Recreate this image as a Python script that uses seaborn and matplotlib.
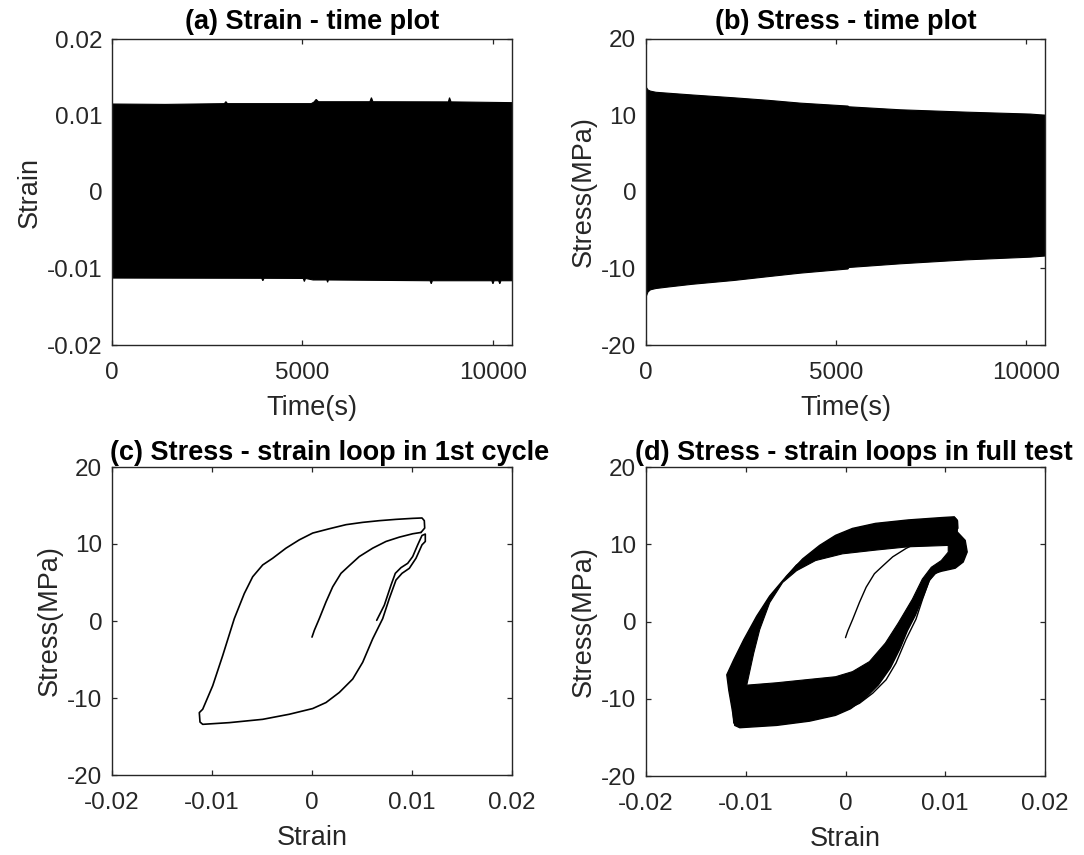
import numpy as np
import pandas as pd
import matplotlib
matplotlib.use("Agg")
import matplotlib.pyplot as plt
import seaborn as sns

# ---------------- data ----------------
# (a) strain - time: envelope of the dense oscillation
time_a_upper = [0, 1400, 2950, 2990, 3030, 5230, 5300, 5360, 5420, 6770, 6810, 6850,
                8830, 8860, 8900, 10500]
strain_a_upper = [0.01150, 0.01145, 0.01155, 0.01181, 0.01155, 0.01155, 0.01175, 0.01210,
                  0.01180, 0.01180, 0.01233, 0.01180, 0.01178, 0.01233, 0.01178, 0.01168]
time_a_lower = [0, 3930, 3960, 3990, 5020, 5050, 5080, 5280, 5640, 5660, 5680, 8350, 8380,
                8410, 9970, 10000, 10030, 10150, 10180, 10210, 10500]
strain_a_lower = [-0.01125, -0.01128, -0.01160, -0.01128, -0.01130, -0.01170, -0.01130,
                  -0.01150, -0.01150, -0.01180, -0.01150, -0.01160, -0.01200, -0.01160,
                  -0.01160, -0.01200, -0.01160, -0.01160, -0.01200, -0.01160, -0.01160]

# (b) stress - time: envelope
time_b = [0, 40, 105, 250, 544, 1200, 2298, 3200, 4053, 5300, 5330, 6684, 8439, 10105, 10500]
stress_b_upper = [13.7, 13.4, 13.25, 13.1, 12.99, 12.75, 12.38, 12.05, 11.68, 11.3, 11.2,
                  10.81, 10.5, 10.25, 10.1]
stress_b_lower = [-13.5, -13.0, -12.72, -12.55, -12.37, -12.0, -11.5, -11.0, -10.54, -10.0,
                  -9.8, -9.32, -8.8, -8.45, -8.3]

# (c) first cycle: initial loading and loop
load_strain = [0.0, 0.00023, 0.00073, 0.0014, 0.00207, 0.0029, 0.00373, 0.00473, 0.00607,
               0.0074, 0.00873, 0.01007, 0.0109]
load_stress = [-2.09, -1.22, 0.31, 2.48, 4.44, 6.19, 7.19, 8.37, 9.46, 10.33, 10.89, 11.33, 11.50]

loop_strain = [0.0109, 0.01127, 0.01123, 0.0110, 0.01007, 0.0084, 0.00673, 0.00507, 0.0034,
               0.00173, 0.00007, -0.00127, -0.0026, -0.00393, -0.00493, -0.00593, -0.00677,
               -0.00777, -0.00893, -0.00993, -0.01093, -0.01127, -0.0112, -0.01093,
               -0.00827, -0.00493, -0.00227, 0.00007, 0.0014, 0.00273, 0.00407, 0.00507,
               0.00607, 0.00707, 0.00773, 0.0084, 0.0090, 0.00973, 0.0104, 0.0110, 0.01133,
               0.01133, 0.0110, 0.01057, 0.01007, 0.00957, 0.0089, 0.00833, 0.0079, 0.00723,
               0.00647]
loop_stress = [11.50, 12.07, 13.03, 13.38, 13.33, 13.20, 13.03, 12.81, 12.51, 11.98, 11.42,
               10.54, 9.46, 8.15, 7.28, 5.75, 3.57, 0.31, -4.49, -8.41, -11.46, -11.90,
               -13.12, -13.42, -13.20, -12.77, -12.11, -11.37, -10.59, -9.28, -7.54, -5.36,
               -2.31, 0.31, 2.92, 5.32, 6.19, 6.84, 8.15, 9.89, 10.33, 11.29, 11.11, 9.89,
               8.37, 7.49, 6.93, 6.19, 4.66, 2.05, 0.09]

# (d) full test: outer and inner boundary of the band of loops
band_outer_strain = [0.0109, 0.0096, 0.0063, 0.0030, 0.0007, -0.0010, -0.0026, -0.0043,
                     -0.0059, -0.0076, -0.0089, -0.0102, -0.0112, -0.0119, -0.0117, -0.0114,
                     -0.0111, -0.0106, -0.0069, -0.0036, -0.0010, 0.0005, 0.0020, 0.0033,
                     0.0045, 0.0055, 0.0062, 0.0070, 0.0078, 0.0084, 0.0089, 0.0096, 0.0110,
                     0.0118, 0.0122, 0.0120, 0.0112, 0.0112]
band_outer_stress = [13.55, 13.45, 13.15, 12.70, 12.05, 11.15, 9.85, 8.10, 5.90, 3.30, 0.70,
                     -2.35, -4.95, -6.90, -8.90, -11.10, -13.45, -13.75, -13.45, -12.90,
                     -12.15, -11.30, -9.90, -8.20, -6.00, -3.40, -1.20, 0.80, 3.30, 5.30,
                     6.20, 6.50, 6.90, 7.70, 9.00, 10.50, 11.60, 13.10]
band_inner_strain = [0.0103, 0.0063, 0.0030, -0.0003, -0.0030, -0.0049, -0.0063, -0.0076,
                     -0.0086, -0.0092, -0.0099, -0.0069, -0.0036, -0.0010, 0.0007, 0.0024,
                     0.0040, 0.0053, 0.0067, 0.0077, 0.0086, 0.0096, 0.0103]
band_inner_stress = [9.85, 9.67, 9.24, 8.76, 7.89, 6.58, 5.05, 2.44, -1.05, -4.10, -8.24,
                     -7.93, -7.49, -7.15, -6.49, -5.19, -2.79, -0.17, 2.88, 5.49, 7.02, 7.89,
                     8.98]

# axis ticks / labels
time_ticks = [0, 5000, 10000]
time_ticklabels = ["0", "5000", "10000"]
strain_ticks = [-0.02, -0.01, 0, 0.01, 0.02]
strain_ticklabels = ["-0.02", "-0.01", "0", "0.01", "0.02"]
stress_ticks = [-20, -10, 0, 10, 20]
stress_ticklabels = ["-20", "-10", "0", "10", "20"]
titles = ["(a) Strain - time plot", "(b) Stress - time plot",
          "(c) Stress - strain loop in 1st cycle", "(d) Stress - strain loops in full test"]

# ---------------- style ----------------
sns.set_theme(style="white")
plt.rcParams['font.family'] = ['Liberation Sans', 'DejaVu Sans']
plt.rcParams['axes.unicode_minus'] = False
GRAY = '#262626'

fig = plt.figure(figsize=(10.84, 8.55), dpi=100)
W, H = 1084, 855


def rect(l, r, t, b):
    return [l / W, (H - b) / H, (r - l) / W, (b - t) / H]


ax_a = fig.add_axes(rect(112, 512, 39, 345))
ax_b = fig.add_axes(rect(646, 1045, 39, 345))
ax_c = fig.add_axes(rect(112, 512, 467, 775))
ax_d = fig.add_axes(rect(646, 1045, 467, 776))


def style(ax, xt, xtl, yt, ytl, xlim, ylim, xlabel, ylabel, title, tpad, tx):
    ax.set_xlim(*xlim)
    ax.set_ylim(*ylim)
    ax.set_xticks(xt)
    ax.set_xticklabels(xtl)
    ax.set_yticks(yt)
    ax.set_yticklabels(ytl)
    for s in ax.spines.values():
        s.set_visible(True)
        s.set_color(GRAY)
        s.set_linewidth(1.0)
    ax.tick_params(axis='both', which='both', direction='in', top=True, right=True,
                   bottom=True, left=True, length=3.5, width=0.9, colors=GRAY,
                   labelsize=17.5, labelcolor=GRAY)
    ax.tick_params(axis='x', pad=12)
    ax.tick_params(axis='y', pad=7)
    ax.set_xlabel(xlabel, fontsize=19.5, color=GRAY, labelpad=8)
    ax.set_ylabel(ylabel, fontsize=19.5, color=GRAY, labelpad=3)
    t = ax.set_title(title, fontsize=19.5, fontweight='bold', color='black', pad=tpad)
    t.set_x(tx)
    ax.set_facecolor('white')


# (a)
ax_a.fill(np.concatenate([time_a_upper, time_a_lower[::-1]]),
          np.concatenate([strain_a_upper, strain_a_lower[::-1]]),
          color='black', lw=0.8, edgecolor='black')
style(ax_a, time_ticks, time_ticklabels, strain_ticks, strain_ticklabels, (0, 10500),
      (-0.02, 0.02), "Time(s)", "Strain", titles[0], 7, 0.5)

# (b)
ax_b.fill_between(time_b, stress_b_lower, stress_b_upper, color='black', lw=0.8,
                  edgecolor='black')
style(ax_b, time_ticks, time_ticklabels, stress_ticks, stress_ticklabels, (0, 10500),
      (-20, 20), "Time(s)", "Stress(MPa)", titles[1], 7, 0.5)

# (c)
df_load = pd.DataFrame({"strain": load_strain, "stress": load_stress})
df_loop = pd.DataFrame({"strain": loop_strain, "stress": loop_stress})
for d in (df_load, df_loop):
    sns.lineplot(data=d, x="strain", y="stress", sort=False, estimator=None,
                 color='black', lw=1.2, ax=ax_c)
style(ax_c, strain_ticks, strain_ticklabels, stress_ticks, stress_ticklabels,
      (-0.02, 0.02), (-20, 20), "Strain", "Stress(MPa)", titles[2], 5, 0.545)

# (d)
ax_d.fill(band_outer_strain, band_outer_stress, color='black', lw=1.0,
          edgecolor='black', zorder=1)
sns.lineplot(data=df_loop, x="strain", y="stress", sort=False, estimator=None,
             color='black', lw=1.0, ax=ax_d, zorder=2)
ax_d.fill(band_inner_strain, band_inner_stress, color='white', lw=0, zorder=3)
ax_d.plot(band_inner_strain + band_inner_strain[:1], band_inner_stress + band_inner_stress[:1],
          color='black', lw=0.8, zorder=4)
sns.lineplot(data=df_load, x="strain", y="stress", sort=False, estimator=None,
             color='black', lw=1.0, ax=ax_d, zorder=5)
style(ax_d, strain_ticks, strain_ticklabels, stress_ticks, stress_ticklabels,
      (-0.02, 0.02), (-20, 20), "Strain", "Stress(MPa)", titles[3], 5, 0.52)

fig.savefig("out.png", dpi=100, facecolor='white')
